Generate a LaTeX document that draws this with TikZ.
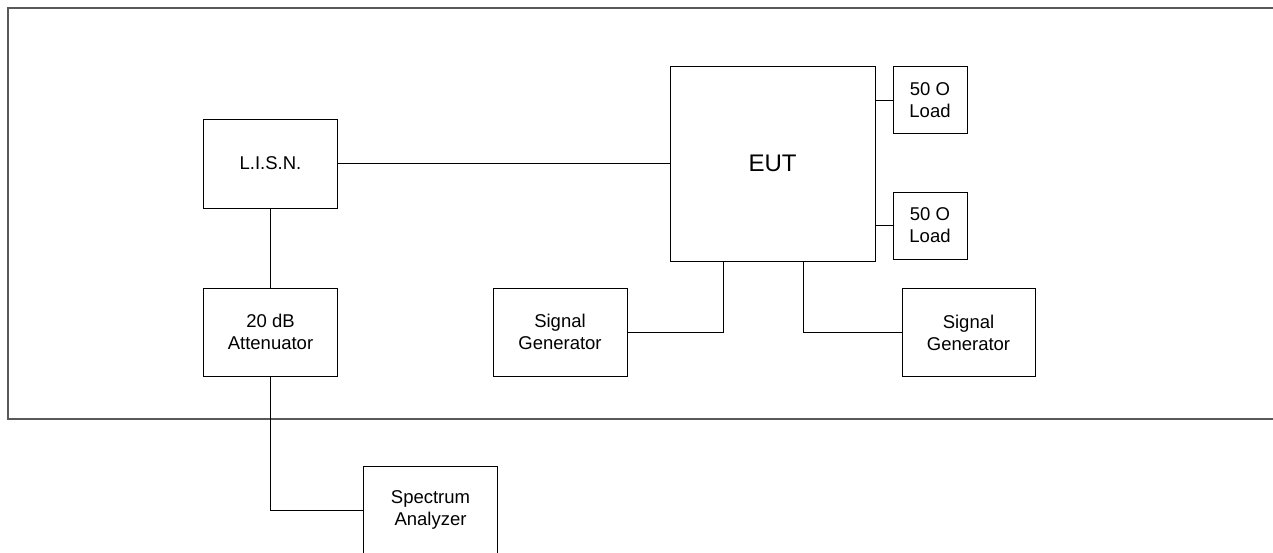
\documentclass[tikz,border=0pt]{standalone}
\usepackage{fontspec}
\setmainfont{Liberation Sans}
\usepackage{tikz}

\begin{document}
\begin{tikzpicture}[x=1pt,y=-1pt,
  box/.style={draw,line width=1pt,inner sep=0pt,align=center,font=\fontsize{18.5}{22}\selectfont},
  wire/.style={line width=1pt}]

\useasboundingbox (0,0) rectangle (1273,552);

% ---------------- ENCLOSURE ----------------

\draw[line width=1.5pt,black!65] (1273,8) -- (8,8) -- (8,419) -- (1273,419);

% ---------------- BOXES ----------------

\node[box,minimum width=134pt,minimum height=89pt] (lisn) at (270.5,163.5) {L.I.S.N.};
\node[box,minimum width=134pt,minimum height=88pt] (att) at (270.5,332) {20 dB\\Attenuator};
\node[box,minimum width=134pt,minimum height=88pt] (sa) at (430.5,510) {Spectrum\\Analyzer};

\node[box,minimum width=205pt,minimum height=195pt,font=\fontsize{24}{28}\selectfont] (eut) at (772.5,163.5) {EUT};
\node[box,minimum width=74pt,minimum height=67pt] (load1) at (930,100) {50 O\\Load};
\node[box,minimum width=74pt,minimum height=67pt] (load2) at (930,225.5) {50 O\\Load};

\node[box,minimum width=134pt,minimum height=88pt] (gen1) at (560,332) {Signal\\Generator};
\node[box,minimum width=133pt,minimum height=88pt] (gen2) at (968.5,332.5) {Signal\\Generator};

\coordinate (eutA) at (723,261);
\coordinate (eutB) at (803,261);

% ---------------- WIRES ----------------

\draw[wire] (lisn.east) -- (lisn.east -| eut.west);
\draw[wire] (lisn) -- (att);
\draw[wire] (att.south) |- (sa.west);
\draw[wire] (load1.west) -- (load1.west -| eut.east);
\draw[wire] (load2.west) -- (load2.west -| eut.east);
\draw[wire] (gen1.east) -| (eutA);
\draw[wire] (gen2.west) -| (eutB);

\end{tikzpicture}
\end{document}
